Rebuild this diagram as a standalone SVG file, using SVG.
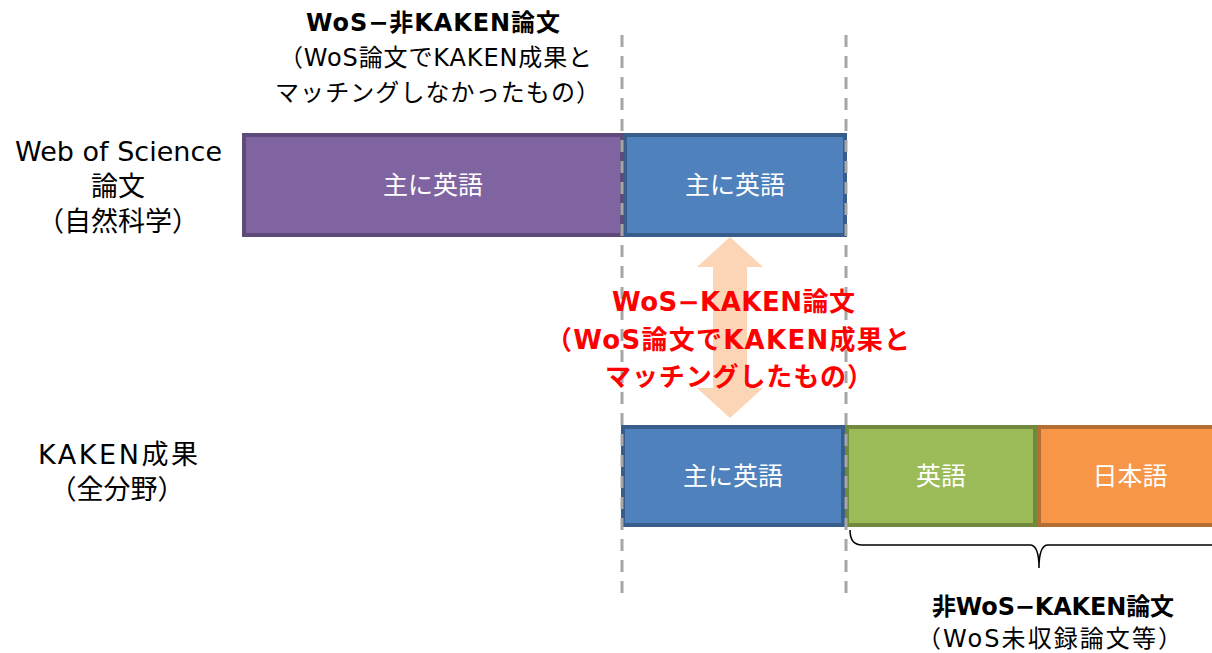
<svg xmlns="http://www.w3.org/2000/svg" width="1212" height="653" viewBox="0 0 1212 653">
<style>
text{font-family:"DejaVu Sans","Noto Sans CJK JP",sans-serif}
.lbl{font-size:24px;fill:#000}
.side{font-size:27px;fill:#000}
.mid{text-anchor:middle}
.box{font-size:25px;fill:#fff;text-anchor:middle;font-family:"Noto Sans CJK JP",sans-serif}
.b{font-weight:bold}
.red{fill:#ff0000;font-size:26px;font-weight:bold}
.dash{stroke:#a6a6a6;stroke-width:3;stroke-dasharray:12 9;fill:none}
</style>
<rect width="1212" height="653" fill="#fff"/>
<g id="arrow">
<polygon points="730,237 763,267 747,267 747,388 763,388 730,418 697,388 713,388 713,267 697,267" fill="#fbd5b5"/>
</g>
<g id="wos-nonkaken">
<rect x="244" y="135" width="378" height="100" fill="#8064a2" stroke="#5f4b7a" stroke-width="4"/>
<text class="box" x="433" y="194">主に英語</text>
</g>
<g id="wos-kaken-top">
<rect x="625" y="135" width="220" height="100" fill="#4f81bd" stroke="#385d8a" stroke-width="4"/>
<text class="box" x="735" y="194">主に英語</text>
</g>
<g id="kaken-wos">
<rect x="623" y="427" width="220" height="98" fill="#4f81bd" stroke="#385d8a" stroke-width="4"/>
<text class="box" x="733" y="485">主に英語</text>
</g>
<g id="kaken-en">
<rect x="847" y="427" width="188" height="98" fill="#9bbb59" stroke="#71893f" stroke-width="4"/>
<text class="box" x="941" y="485">英語</text>
</g>
<g id="kaken-ja">
<rect x="1039" y="427" width="180" height="98" fill="#f79646" stroke="#b66d31" stroke-width="4"/>
<text class="box" x="1130" y="485">日本語</text>
</g>
<g id="connectors">
<line class="dash" x1="622" y1="35" x2="622" y2="596"/>
<line class="dash" x1="846" y1="35" x2="846" y2="598"/>
<path d="M850,530 Q850,545 862,545 L1030,545 Q1039,545 1039,568 Q1039,545 1048,545 L1212,545" fill="none" stroke="#000" stroke-width="1.5"/>
</g>
<g id="labels">
<text class="side" x="15" y="161" textLength="207">Web of Science</text>
<text class="side mid" x="118" y="196">論文</text>
<text class="side mid" x="118" y="231">（自然科学）</text>
<text class="side" x="38" y="464" textLength="160">KAKEN成果</text>
<text class="side mid" x="117" y="499">（全分野）</text>
<text class="lbl b" x="306" y="31" textLength="254">WoS−非KAKEN論文</text>
<text class="lbl" x="279" y="66" textLength="313">（WoS論文でKAKEN成果と</text>
<text class="lbl" x="275" y="101" textLength="325">マッチングしなかったもの）</text>
<text class="red" x="612" y="311" textLength="243">WoS−KAKEN論文</text>
<text class="red" x="546" y="349" textLength="364">（WoS論文でKAKEN成果と</text>
<text class="red" x="605" y="386" textLength="268">マッチングしたもの）</text>
<text class="lbl b" x="932" y="615" textLength="242">非WoS−KAKEN論文</text>
<text class="lbl" x="917" y="647" textLength="265">（WoS未収録論文等）</text>
</g>
</svg>
